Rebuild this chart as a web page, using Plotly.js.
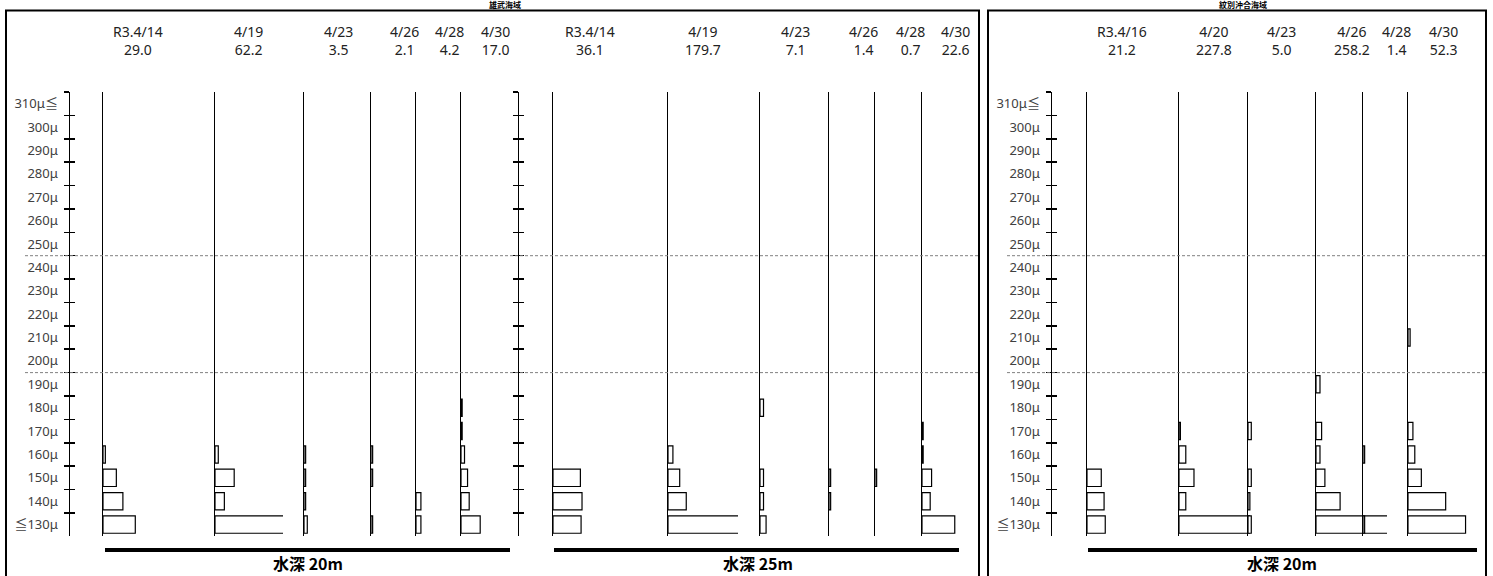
<!DOCTYPE html>
<html><head><meta charset="utf-8">
<script src="https://cdn.plot.ly/plotly-3.0.1.min.js"></script>
<style>html,body{margin:0;padding:0;background:#fff}#chart{width:1493px;height:576px}</style>
</head><body><div id="chart"></div>
<script>
// ---------------- DATA ----------------
const sizeClasses = ['≦130μ','140μ','150μ','160μ','170μ','180μ','190μ','200μ','210μ','220μ','230μ','240μ','250μ','260μ','270μ','280μ','290μ','300μ','310μ≦'];

const areaTitles = ['雄武海域', '紋別沖合海域'];
const depthLabels = ['水深 20m', '水深 25m', '水深 20m'];

// values per size class, starting at ≦130μ (null = no larvae in class)
const st1Dates  = ['R3.4/14', '4/19', '4/23', '4/26', '4/28', '4/30'];
const st1Totals = ['29.0', '62.2', '3.5', '2.1', '4.2', '17.0'];
const st1_0414 = [13.8, 8.5, 5.7, 1.0];
const st1_0419 = [48.6, 4.0, 8.2, 1.4];
const st1_0423 = [1.4, 0.7, 0.7, 0.7];
const st1_0426 = [0.7, null, 0.7, 0.7];
const st1_0428 = [2.1, 2.1];
const st1_0430 = [8.2, 3.5, 2.8, 1.5, 0.5, 0.5];

const st2Dates  = ['R3.4/14', '4/19', '4/23', '4/26', '4/28', '4/30'];
const st2Totals = ['36.1', '179.7', '7.1', '1.4', '0.7', '22.6'];
const st2_0414 = [12.0, 12.4, 11.7];
const st2_0419 = [164.8, 7.8, 5.0, 2.1];
const st2_0423 = [2.6, 1.5, 1.5, null, null, 1.5];
const st2_0426 = [null, 0.7, 0.7];
const st2_0428 = [null, null, 0.7];
const st2_0430 = [14.0, 3.5, 4.1, 0.5, 0.5];

const st3Dates  = ['R3.4/16', '4/20', '4/23', '4/26', '4/28', '4/30'];
const st3Totals = ['21.2', '227.8', '5.0', '258.2', '1.4', '52.3'];
const st3_0416 = [7.8, 7.3, 6.1];
const st3_0420 = [215.0, 2.9, 6.4, 2.9, 0.6];
const st3_0423 = [1.4, 0.8, 1.4, null, 1.4];
const st3_0426 = [238.3, 10.3, 3.8, 1.7, 2.4, null, 1.7];
const st3_0428 = [0.7, null, null, 0.7];
const st3_0430 = [24.6, 16.1, 5.7, 2.9, 2.1, null, null, null, 0.9];

const stations = [
  {dates: st1Dates, totals: st1Totals, series: [st1_0414, st1_0419, st1_0423, st1_0426, st1_0428, st1_0430]},
  {dates: st2Dates, totals: st2Totals, series: [st2_0414, st2_0419, st2_0423, st2_0426, st2_0428, st2_0430]},
  {dates: st3Dates, totals: st3Totals, series: [st3_0416, st3_0420, st3_0423, st3_0426, st3_0428, st3_0430]},
];

// ---------------- LAYOUT GEOMETRY (pixels) ----------------
const W = 1493, H = 576;
const px = v => v / W;
const py = v => 1 - v / H;
const yTop = 92, yBot = 536.3;
const pxPerUnit = 2.34;
const geom = [
  {axisX: 70,   labels: true,  clip: 68, base: [103, 215, 304, 371, 416, 461],
   labelX: [137.5, 248.5, 338, 404.5, 449, 495], bar: [105, 510], depthX: 308},
  {axisX: 519,  labels: false, clip: 70, base: [553, 668, 760, 829, 875, 922],
   labelX: [590, 702.5, 795, 863, 910, 955], bar: [554, 959], depthX: 758},
  {axisX: 1052, labels: true,  clip: 71, base: [1087, 1179, 1248, 1316, 1363, 1408],
   labelX: [1121.5, 1213.5, 1281.5, 1351.5, 1396, 1443.5], bar: [1088, 1477], depthX: 1282},
];

const yDomain = [py(yBot), py(yTop)];
const catAxisBase = {
  type: 'category', categoryorder: 'array', categoryarray: sizeClasses,
  range: [-0.5, sizeClasses.length - 0.5], showgrid: false, zeroline: false, fixedrange: true
};

const data = [];
const layout = {
  width: W, height: H, autosize: false,
  margin: {l: 0, r: 0, t: 0, b: 0, pad: 0},
  paper_bgcolor: '#fff', plot_bgcolor: 'rgba(0,0,0,0)',
  showlegend: false, bargap: 0.26,
  shapes: [], annotations: []
};

let n = 0;
stations.forEach((st, p) => {
  const g = geom[p];
  st.series.forEach((vals, i) => {
    n += 1;
    const b = g.base[i];
    layout['xaxis' + n] = {
      domain: [px(b), px(b + g.clip)], anchor: 'y' + n,
      range: [0, g.clip / pxPerUnit], visible: false, fixedrange: true
    };
    layout['yaxis' + n] = Object.assign({}, catAxisBase, {
      domain: yDomain, anchor: 'x' + n,
      showline: true, linecolor: '#000', linewidth: 1,
      ticks: '', showticklabels: false
    });
    data.push({
      type: 'bar', orientation: 'h',
      x: vals, y: sizeClasses.slice(0, vals.length),
      xaxis: 'x' + n, yaxis: 'y' + n,
      marker: {color: '#fff', line: {color: '#000', width: 1.2}},
      hoverinfo: 'skip'
    });
    layout.annotations.push({
      xref: 'paper', yref: 'paper', x: px(g.labelX[i]), y: py(40.5),
      xanchor: 'center', yanchor: 'middle', showarrow: false,
      text: st.dates[i] + '<br>' + st.totals[i],
      font: {family: 'Noto Sans, Open Sans, sans-serif', size: 14, color: '#222'}
    });
  });
});

// size-class axes with crossing ticks
stations.forEach((st, p) => {
  const g = geom[p];
  const ax = 19 + p, ov = 22 + p;
  layout['xaxis' + ax] = {domain: [px(g.axisX), px(g.axisX + 5)], anchor: 'y' + ax,
    range: [0, 1], visible: false, fixedrange: true};
  layout['yaxis' + ax] = Object.assign({}, catAxisBase, {
    domain: yDomain, anchor: 'x' + ax, side: 'left',
    showline: true, linecolor: '#000', linewidth: 1.5,
    ticks: 'outside', ticklen: 5, tickwidth: 1.5, tickcolor: '#000', tickson: 'boundaries',
    showticklabels: g.labels, ticklabelstandoff: 8,
    tickfont: {family: 'Noto Sans, Noto Sans CJK JP, sans-serif', size: 13, color: '#404040'}
  });
  layout['yaxis' + ov] = Object.assign({}, catAxisBase, {
    overlaying: 'y' + ax, anchor: 'x' + ax, side: 'left',
    showline: false, ticks: 'inside', ticklen: 5, tickwidth: 1.5, tickcolor: '#000',
    tickson: 'boundaries', showticklabels: false
  });
  data.push({type: 'scatter', mode: 'markers', x: [null], y: [null], xaxis: 'x' + ax, yaxis: 'y' + ax, hoverinfo: 'skip'});
  data.push({type: 'scatter', mode: 'markers', x: [null], y: [null], xaxis: 'x' + ax, yaxis: 'y' + ov, hoverinfo: 'skip'});

  // thick bar under each station
  layout.shapes.push({type: 'line', xref: 'paper', yref: 'paper',
    x0: px(g.bar[0]), x1: px(g.bar[1]), y0: py(550), y1: py(550),
    line: {color: '#000', width: 4}});
  layout.annotations.push({
    xref: 'paper', yref: 'paper', x: px(g.depthX), y: py(563),
    xanchor: 'center', yanchor: 'middle', showarrow: false,
    text: '<b>' + depthLabels[p] + '</b>', borderpad: 0,
    font: {family: 'Noto Sans CJK JP, sans-serif', size: 16, color: '#000'}
  });
});

// dashed reference lines (between 240/250μ and 190/200μ)
[11.5, 6.5].forEach(yv => {
  layout.shapes.push({type: 'line', xref: 'paper', yref: 'y19', x0: px(25), x1: px(978), y0: yv, y1: yv,
    line: {color: '#808080', width: 1, dash: '3px,2px'}});
  layout.shapes.push({type: 'line', xref: 'paper', yref: 'y21', x0: px(1007), x1: px(1485), y0: yv, y1: yv,
    line: {color: '#808080', width: 1, dash: '3px,2px'}});
});

// frames
layout.shapes.push({type: 'rect', xref: 'paper', yref: 'paper', x0: px(6), x1: px(979), y0: py(10.5), y1: -0.1,
  line: {color: '#000', width: 2}, fillcolor: 'rgba(0,0,0,0)'});
layout.shapes.push({type: 'rect', xref: 'paper', yref: 'paper', x0: px(988), x1: px(1486), y0: py(10.5), y1: -0.1,
  line: {color: '#000', width: 2}, fillcolor: 'rgba(0,0,0,0)'});

// area titles (small, in the strip above the frames)
[[505, areaTitles[0]], [1243, areaTitles[1]]].forEach(([x, t]) => {
  layout.annotations.push({xref: 'paper', yref: 'paper', x: px(x), y: py(4.5),
    xanchor: 'center', yanchor: 'middle', showarrow: false, text: '<b>' + t + '</b>',
    font: {family: 'Noto Sans CJK JP, sans-serif', size: 8, color: '#000'}});
});

Plotly.newPlot('chart', data, layout, {displayModeBar: false, staticPlot: true});
</script>
</body></html>
